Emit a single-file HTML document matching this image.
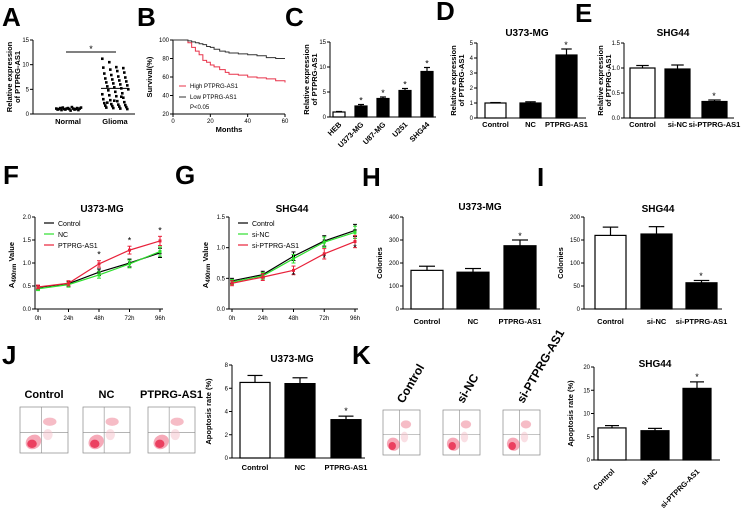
<!DOCTYPE html>
<html><head><meta charset="utf-8">
<style>
body{margin:0;background:#fff;}
svg{display:block;font-family:"Liberation Sans",Arial,sans-serif;}
.L{font-size:26px;font-weight:bold;}
.t{font-size:6px;}
.lab{font-size:7.5px;font-weight:bold;}
.ti{font-size:10px;font-weight:bold;}
</style></head>
<body>
<svg id="fig" width="742" height="514" viewBox="0 0 742 514">
<text class="L" x="2" y="26">A</text>
<text class="L" x="137" y="26">B</text>
<text class="L" x="285" y="26">C</text>
<text class="L" x="436" y="20">D</text>
<text class="L" x="575" y="22">E</text>
<text class="L" x="3" y="184">F</text>
<text class="L" x="175" y="184">G</text>
<text class="L" x="362" y="186">H</text>
<text class="L" x="537" y="186">I</text>
<text class="L" x="2" y="364">J</text>
<text class="L" x="352" y="364">K</text>
</svg>
<script>
var scatterNormal=[1.1,0.9,1.0,1.2,0.8,1.3,1.0,0.9,1.1,1.2,1.0,0.7,1.4,1.1,0.9,1.0,1.2,0.8,1.1,1.3];
var scatterGlioma=[11.2,10.5,9.5,9.3,9.4,9.0,8.7,8.4,8.2,7.9,7.6,7.4,7.2,7.0,6.8,6.6,6.4,6.2,6.0,5.8,5.6,5.4,5.2,5.0,4.8,4.5,4.2,4.0,3.8,3.6,3.3,3.0,2.8,2.6,2.4,2.2,2.0,1.9,1.8,1.7,1.6,1.5,1.4,1.3,1.2,1.1,1.0,2.3,2.7,3.5];
var survMonths=[0,5,8,10,12,14,16,18,20,22,25,28,30,35,40,45,50,55,60];
var survHigh=[100,100,97,92,88,84,78,76,73,71,68,65,63,62,60,59,58,56,54];
var survLow=[100,100,99,98,97,96,95,93,92,90,88,87,86,85,84,83,81,80,80];
var cCats=["HEB","U373-MG","U87-MG","U251","SHG44"];
var cVals=[1.0,2.2,3.7,5.3,9.1];
var cErr=[0.1,0.3,0.3,0.4,0.8];
var dCats=["Control","NC","PTPRG-AS1"];
var dVals=[1.0,1.0,4.2];
var dErr=[0.03,0.08,0.4];
var eCats=["Control","si-NC","si-PTPRG-AS1"];
var eVals=[1.0,0.98,0.33];
var eErr=[0.05,0.08,0.03];
var timeLabels=["0h","24h","48h","72h","96h"];
var fControl=[0.47,0.55,0.80,1.00,1.22];
var fNC=[0.44,0.53,0.74,0.98,1.25];
var fPT=[0.48,0.56,0.98,1.28,1.48];
var gControl=[0.46,0.56,0.86,1.11,1.28];
var gNC=[0.44,0.54,0.82,1.09,1.25];
var gPT=[0.42,0.52,0.63,0.90,1.10];
var hVals=[168,160,275];
var hErr=[18,16,25];
var iVals=[160,163,57];
var iErr=[18,16,5];
var jVals=[6.5,6.4,3.3];
var jErr=[0.6,0.5,0.3];
var kVals=[6.9,6.3,15.4];
var kErr=[0.5,0.5,1.4];

var S=document.getElementById('fig'),NS='http://www.w3.org/2000/svg';
function el(tag,at,txt){var e=document.createElementNS(NS,tag);for(var k in at)e.setAttribute(k,at[k]);if(txt!=null)e.textContent=txt;S.appendChild(e);return e;}
function lin(d0,d1,p0,p1){return function(v){return p0+(v-d0)/(d1-d0)*(p1-p0);};}
function yaxis(x,y,ticks,fmt,title,nm){
  var a=el('line',{x1:x,y1:y(ticks[0]),x2:x,y2:y(ticks[ticks.length-1]),stroke:'#000','stroke-width':1});
  
  ticks.forEach(function(t){el('line',{x1:x-3,y1:y(t),x2:x,y2:y(t),stroke:'#000'});
    var tx=el('text',{x:x-4,y:y(t)+2,'text-anchor':'end',class:'t'},fmt(t));
    });
  if(title){var yc=(y(ticks[0])+y(ticks[ticks.length-1]))/2;
    var lines=title.split('|');
    lines.forEach(function(l,i){var px=lines.length>1?x-21+i*8:x-21;
    var t=el('text',{x:px,y:yc,'text-anchor':'middle',class:'lab',transform:'rotate(-90 '+px+' '+yc+')'},l);
    });}
}
function barChart(nm,x0,y,cats,vals,errs,bx,bw,fills,rot,xend,labY){
  el('line',{x1:x0,y1:y(0),x2:xend,y2:y(0),stroke:'#000'});
  cats.forEach(function(c,i){
    var r=el('rect',{x:bx[i],y:y(vals[i]),width:bw,height:y(0)-y(vals[i]),fill:fills[i],stroke:'#000','stroke-width':1.2});
    
    var cx=bx[i]+bw/2;
    el('line',{x1:cx,y1:y(vals[i]),x2:cx,y2:y(vals[i]+errs[i]),stroke:'#000','stroke-width':1.2});
    el('line',{x1:cx-bw/4,y1:y(vals[i]+errs[i]),x2:cx+bw/4,y2:y(vals[i]+errs[i]),stroke:'#000','stroke-width':1.2});
    var t;
    if(rot){t=el('text',{x:cx+3,y:labY,'text-anchor':'end',class:'lab',transform:'rotate(-45 '+(cx+3)+' '+labY+')'},c);}
    else t=el('text',{x:cx,y:labY,'text-anchor':'middle',class:'lab'},c);
    
  });
}
function star(x,y){el('text',{x:x,y:y,'text-anchor':'middle','font-size':'9px'},'*');}
function title(x,y,s,nm){var t=el('text',{x:x,y:y,'text-anchor':'middle',class:'ti'},s);}

/* A */
var ya=lin(0,15,114,40);
yaxis(33,ya,[0,5,10,15],String,'Relative expression|of PTPRG-AS1','a');
el('line',{x1:33,y1:114,x2:135,y2:114,stroke:'#000'});
scatterNormal.forEach(function(v,i){var p=el('rect',{x:55+i*1.3,y:ya(v)-1.3,width:2.6,height:2.6,fill:'#000'});
  });
scatterGlioma.forEach(function(v,i){var p=el('rect',{x:101+((i*7)%27),y:ya(v)-1.3,width:2.6,height:2.6,fill:'#000'});
  });
el('line',{x1:101,y1:ya(5.2),x2:129,y2:ya(5.2),stroke:'#000'});
el('line',{x1:66,y1:52,x2:116,y2:52,stroke:'#000'});star(91,52);
el('text',{x:68,y:124,'text-anchor':'middle',class:'lab'},'Normal');
el('text',{x:115,y:124,'text-anchor':'middle',class:'lab'},'Glioma');

/* B */
var bx=lin(0,60,173,285),by=lin(20,100,114,40);
yaxis(173,by,[20,40,60,80,100],String,'Survival(%)','b');
el('line',{x1:173,y1:114,x2:285,y2:114,stroke:'#000'});
[0,20,40,60].forEach(function(t){el('line',{x1:bx(t),y1:114,x2:bx(t),y2:117,stroke:'#000'});el('text',{x:bx(t),y:123,'text-anchor':'middle',class:'t'},t);});
el('text',{x:229,y:132,'text-anchor':'middle',class:'lab'},'Months');
function step(xs,ys,col,nm){var d='M'+bx(xs[0])+' '+by(ys[0]);for(var i=1;i<xs.length;i++){d+=' H'+bx(xs[i])+' V'+by(ys[i]);}
  var p=el('path',{d:d,fill:'none',stroke:col,'stroke-width':1});}
step(survMonths,survHigh,'#e8334a','b-high-line');step(survMonths,survLow,'#333','b-low-line');
el('line',{x1:179,y1:86,x2:186,y2:86,stroke:'#e8334a'});el('text',{x:190,y:88,class:'t'},'High PTPRG-AS1');
el('line',{x1:179,y1:97,x2:186,y2:97,stroke:'#333'});el('text',{x:190,y:99,class:'t'},'Low PTPRG-AS1');
el('text',{x:190,y:109,class:'t'},'P<0.05');

/* C */
var yc=lin(0,15,117,42);
yaxis(330,yc,[0,5,10,15],String,'Relative expression|of PTPRG-AS1','c');
barChart('c',330,yc,cCats,cVals,cErr,[333,355,377,399,421],12,['#fff','#000','#000','#000','#000'],true,436,125);
[1,2,3,4].forEach(function(i){star([333,355,377,399,421][i]+6,yc(cVals[i]+cErr[i])-1);});

/* D */
var yd=lin(0,5,118,43);
yaxis(477,yd,[0,1,2,3,4,5],String,'Relative expression|of PTPRG-AS1','d');
title(527,36,'U373-MG','d');
barChart('d',477,yd,dCats,dVals,dErr,[485,520,556],21,['#fff','#000','#000'],false,586,127);
star(566,yd(4.6)-1);

/* E */
var ye=lin(0,1.5,118,43);
yaxis(624,ye,[0,0.5,1,1.5],function(v){return v.toFixed(1);},'Relative expression|of PTPRG-AS1','e');
title(673,36,'SHG44','e');
barChart('e',624,ye,eCats,eVals,eErr,[630,665,702],25,['#fff','#000','#000'],false,734,127);
star(714,ye(0.36)-1);

/* F/G line charts */
function lineChart(nm,x0,x1,y,ticks,fmt,series,cols,names,stars,ttl,tx){
  var xs=lin(0,4,x0,x1);
  yaxis(x0-3,y,ticks,fmt,null,nm);
  var t=el('text',{x:x0-24,y:265,'text-anchor':'middle',class:'lab','font-size':'9px',transform:'rotate(-90 '+(x0-24)+' 265)'},'');
  t.innerHTML='A<tspan font-size="6" dy="2">490nm</tspan><tspan dy="-2"> Value</tspan>';
  
  el('line',{x1:x0-3,y1:y(0),x2:x1+3,y2:y(0),stroke:'#000'});
  timeLabels.forEach(function(l,i){el('line',{x1:xs(i),y1:y(0),x2:xs(i),y2:y(0)+3,stroke:'#000'});
    el('text',{x:xs(i),y:y(0)+11,'text-anchor':'middle',class:'t'},l);});
  series.forEach(function(s,k){
    var p=el('polyline',{points:s.map(function(v,i){return xs(i)+','+y(v);}).join(' '),fill:'none',stroke:cols[k],'stroke-width':1.2});
    
    s.forEach(function(v,i){var e=0.04+0.015*i;
      el('line',{x1:xs(i),y1:y(v-e),x2:xs(i),y2:y(v+e),stroke:cols[k]});
      el('line',{x1:xs(i)-2,y1:y(v+e),x2:xs(i)+2,y2:y(v+e),stroke:cols[k]});
      el('line',{x1:xs(i)-2,y1:y(v-e),x2:xs(i)+2,y2:y(v-e),stroke:cols[k]});
      el('rect',{x:xs(i)-1.5,y:y(v)-1.5,width:3,height:3,fill:cols[k]});});
    el('line',{x1:x0+6,y1:223+k*11,x2:x0+16,y2:223+k*11,stroke:cols[k],'stroke-width':1.2});
    el('text',{x:x0+20,y:226+k*11,'font-size':'7px'},names[k]);
  });
  stars.forEach(function(s){star(xs(s[0]),y(s[1]));});
  title(tx,212,ttl,nm);
}
var yf=lin(0,2,309,217);
lineChart('f',38,160,yf,[0,0.5,1,1.5,2],function(v){return v.toFixed(1);},[fControl,fNC,fPT],['#000','#2ee02e','#e8213a'],['Control','NC','PTPRG-AS1'],[[2,1.12],[3,1.42],[4,1.64]],'U373-MG',102);
var yg=lin(0,1.5,309,217);
lineChart('g',232,355,yg,[0,0.5,1,1.5],function(v){return v.toFixed(1);},[gControl,gNC,gPT],['#000','#2ee02e','#e8213a'],['Control','si-NC','si-PTPRG-AS1'],[[2,0.5],[3,0.78],[4,0.95]],'SHG44',292);

/* H */
var yh=lin(0,400,309,217);
yaxis(403,yh,[0,100,200,300,400],String,'Colonies','h');
title(480,210,'U373-MG','h');
barChart('h',403,yh,dCats,hVals,hErr,[411,457,504],32,['#fff','#000','#000'],false,540,324);
star(520,yh(300)-1);

/* I */
var yi=lin(0,200,309,217);
yaxis(584,yi,[0,50,100,150,200],String,'Colonies','i');
title(658,212,'SHG44','i');
barChart('i',584,yi,eCats,iVals,iErr,[595,641,686],31,['#fff','#000','#000'],false,722,324);
star(701,yi(63)-1);

/* J */
var yj=lin(0,8,458,365);
yaxis(232,yj,[0,2,4,6,8],String,'Apoptosis rate (%)','j');
title(292,362,'U373-MG','j');
barChart('j',232,yj,dCats,jVals,jErr,[240,285,331],30,['#fff','#000','#000'],false,365,470);
star(346,yj(3.7)-1);

/* K */
var yk=lin(0,20,460,367);
yaxis(594,yk,[0,5,10,15,20],String,'Apoptosis rate (%)','k');
title(655,367,'SHG44','k');
barChart('k',594,yk,eCats,kVals,kErr,[598,641,683],28,['#fff','#000','#000'],true,720,472);
star(697,yk(17)-1);

/* flow plots */
function flow(nm,x,y,w,h,lbl,rot){
  var g=el('g',{});
  el('rect',{x:x,y:y,width:w,height:h,fill:'#fff',stroke:'#888','stroke-width':0.7});
  el('line',{x1:x+w*0.45,y1:y,x2:x+w*0.45,y2:y+h,stroke:'#888','stroke-width':0.6});
  el('line',{x1:x,y1:y+h*0.55,x2:x+w,y2:y+h*0.55,stroke:'#888','stroke-width':0.6});
  el('ellipse',{cx:x+w*0.28,cy:y+h*0.76,rx:w*0.17,ry:h*0.15,fill:'#f07088',opacity:0.6,transform:'rotate(-35 '+(x+w*0.28)+' '+(y+h*0.76)+')'});
  el('ellipse',{cx:x+w*0.25,cy:y+h*0.8,rx:w*0.1,ry:h*0.09,fill:'#e8264a',opacity:0.8});
  el('ellipse',{cx:x+w*0.62,cy:y+h*0.32,rx:w*0.14,ry:h*0.09,fill:'#f08fa0',opacity:0.6});
  el('ellipse',{cx:x+w*0.58,cy:y+h*0.6,rx:w*0.1,ry:h*0.12,fill:'#f6c0ca',opacity:0.5});
  var t;
  if(rot)t=el('text',{x:x+w*0.55,y:y-6,'font-size':'12px','font-weight':'bold',transform:'rotate(-60 '+(x+w*0.55)+' '+(y-6)+')'},lbl);
  else t=el('text',{x:x+w/2,y:y-9,'text-anchor':'middle','font-size':'11px','font-weight':'bold'},lbl);
  
}
flow('j-flow-control',20,407,48,46,'Control');
flow('j-flow-nc',83,407,47,46,'NC');
flow('j-flow-ptprg',148,407,47,46,'PTPRG-AS1');
flow('k-flow-control',383,410,37,45,'Control',1);
flow('k-flow-sinc',443,410,37,45,'si-NC',1);
flow('k-flow-siptprg',503,410,37,45,'si-PTPRG-AS1',1);
</script>
</body></html>
